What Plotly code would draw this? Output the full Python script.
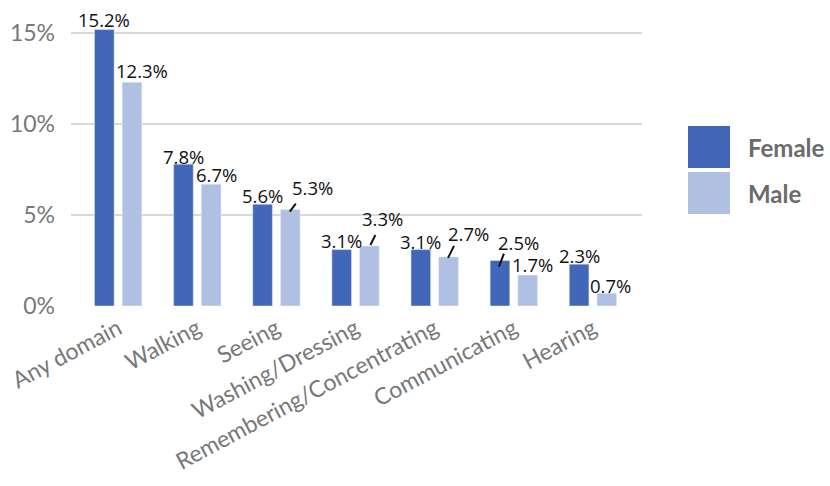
import plotly.graph_objects as go

# Share of adults with a functional difficulty, by domain and sex (%)
categories = ["Any domain", "Walking", "Seeing", "Washing/Dressing",
              "Remembering/Concentrating", "Communicating", "Hearing"]
female = [15.2, 7.8, 5.6, 3.1, 3.1, 2.5, 2.3]
male = [12.3, 6.7, 5.3, 3.3, 2.7, 1.7, 0.7]
y_ticks = [0, 5, 10, 15]
y_tick_labels = ["0%", "5%", "10%", "15%"]

FEMALE_COLOR = "#4267B8"
MALE_COLOR = "#AFC0E2"
AXIS_FONT = "Lato"
LABEL_FONT = "Open Sans"

W, H = 830, 486
ML, MR, MT, MB = 71, 188, 15, 180
X_RANGE = [-0.596, 6.62]
Y_RANGE = [0, 16]
BAR_OFF = 0.175  # half the distance between paired bar centres, in category units

x_idx = list(range(len(categories)))

fig = go.Figure()
fig.add_trace(go.Bar(x=x_idx, y=female, name="Female", marker_color=FEMALE_COLOR,
                     showlegend=False, hoverinfo="skip"))
fig.add_trace(go.Bar(x=x_idx, y=male, name="Male", marker_color=MALE_COLOR,
                     showlegend=False, hoverinfo="skip"))

# value label pixel offsets (dx right, dy up) relative to each bar's top centre
female_shift = [(0, 10), (0, 8), (0, 9), (0, 9), (0, 8), (19, 18), (0, 9)]
male_shift = [(10, 12), (5, 10), (22, 22), (13, 27), (20, 23), (5, 11), (4, 8)]
# short leader strokes (x0, y0, x1, y1) in pixels, y up, from the bar top
female_leaders = {5: (-1, -6, 4, 7)}
male_leaders = {2: (-0.5, -2, 5.5, 6), 3: (1, 1, 6, 11), 4: (-0.5, -1, 5.5, 11)}

annotations = []
shapes = []
for series, shifts, leaders, off in ((female, female_shift, female_leaders, -BAR_OFF),
                                     (male, male_shift, male_leaders, BAR_OFF)):
    for i, v in enumerate(series):
        dx, dy = shifts[i]
        annotations.append(dict(
            x=i + off, y=v, xref="x", yref="y", text=f"{v:.1f}%", showarrow=False,
            xanchor="center", yanchor="middle", xshift=dx, yshift=dy,
            font=dict(family=LABEL_FONT, size=18.5, color="#111111")))
        if i in leaders:
            x0, y0, x1, y1 = leaders[i]
            shapes.append(dict(
                type="line", xref="x", yref="y",
                xsizemode="pixel", ysizemode="pixel",
                xanchor=i + off, yanchor=v,
                x0=x0, x1=x1, y0=y0, y1=y1,
                line=dict(color="#111111", width=2)))

# legend swatches and labels
def px_to_paper(px, py):
    return (px - ML) / (W - ML - MR), (H - MB - py) / (H - MT - MB)

for name, color, top in (("Female", FEMALE_COLOR, 126), ("Male", MALE_COLOR, 172)):
    x0, y1 = px_to_paper(688, top)
    x1, y0 = px_to_paper(730, top + 42)
    shapes.append(dict(type="rect", xref="paper", yref="paper",
                       x0=x0, x1=x1, y0=y0, y1=y1,
                       fillcolor=color, line=dict(width=0)))
    tx, ty = px_to_paper(746, top + 21)
    annotations.append(dict(x=tx, y=ty, xref="paper", yref="paper", text=f"<b>{name}</b>",
                            showarrow=False, xanchor="left", yanchor="middle",
                            font=dict(family=AXIS_FONT, size=24, color="#6b6b6b")))

fig.update_layout(
    width=W, height=H,
    margin=dict(l=ML, r=MR, t=MT, b=MB, pad=0, autoexpand=False),
    paper_bgcolor="white", plot_bgcolor="white",
    barmode="group", bargap=0.30, bargroupgap=0.29,
    annotations=annotations, shapes=shapes,
    xaxis=dict(range=X_RANGE, tickmode="array", tickvals=x_idx, ticktext=categories,
               tickangle=-28, showgrid=False, zeroline=False, showline=False,
               ticks="", ticklabelstandoff=4, automargin=False,
               tickfont=dict(family=AXIS_FONT, size=23, color="#787878")),
    yaxis=dict(range=Y_RANGE, tickmode="array", tickvals=y_ticks, ticktext=y_tick_labels,
               showgrid=True, gridcolor="#d9d9d9", gridwidth=1.5, zeroline=False,
               showline=False, ticks="", ticklabelstandoff=15, automargin=False,
               tickfont=dict(family=AXIS_FONT, size=23, color="#787878")),
)

fig.write_html("out.html")
